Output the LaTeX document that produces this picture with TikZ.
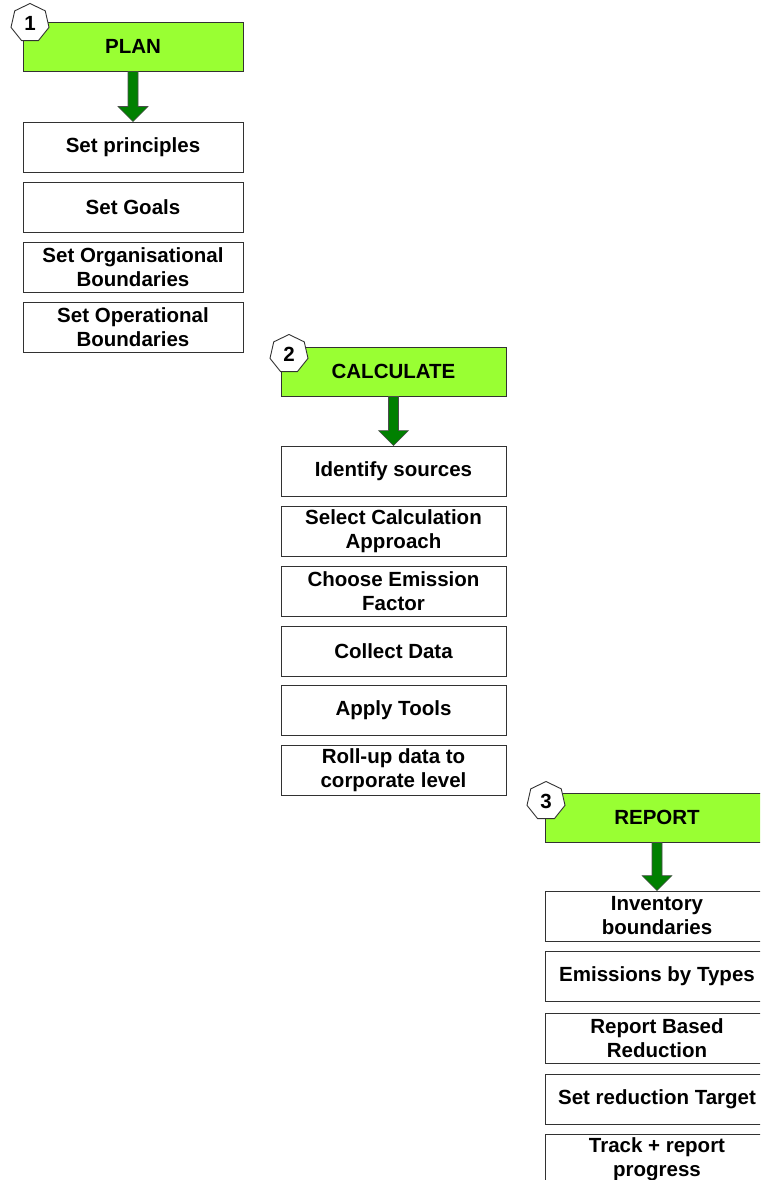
\documentclass[tikz,border=0pt]{standalone}
\usepackage{fontspec}
\setmainfont{Liberation Sans}
\usetikzlibrary{calc,shapes.geometric}
\definecolor{headgreen}{RGB}{153,255,51}
\definecolor{arrowgreen}{RGB}{0,128,0}
\definecolor{edge}{RGB}{50,50,50}
\tikzset{
  every node/.style={font=\bfseries\fontsize{20.5}{24}\selectfont, align=center, inner sep=0pt},
  stagehead/.style={draw=edge, line width=0.9pt, fill=headgreen, minimum height=49pt},
  stepbox/.style={draw=edge, line width=0.9pt, fill=white, minimum height=50pt},
  badge/.style={regular polygon, regular polygon sides=7, draw=edge, line width=0.9pt, fill=white, minimum size=39pt},
  bigarrow/.style={draw=black!70, line width=0.6pt, fill=arrowgreen},
}
\newcommand{\stagearrow}[2]{%
  \draw[bigarrow] ($(#1.south)+(-5,0)$) -- ($(#2.north)+(-5,-15)$) -- ($(#2.north)+(-15,-15)$)
    -- (#2.north) -- ($(#2.north)+(15,-15)$) -- ($(#2.north)+(5,-15)$) -- ($(#1.south)+(5,0)$) -- cycle;}
\begin{document}
\begin{tikzpicture}[x=1pt,y=-1pt]
\useasboundingbox (0,0) rectangle (760,1180);
\clip (0,0) rectangle (760,1180);

% Stage 1: plan
\node[stagehead, minimum width=220pt] (h1) at (133,46.5) {PLAN};
\node[badge] (n1) at (30,23) {1};
\node[stepbox, minimum width=220pt] (p1) at (133,147) {Set principles};
\node[stepbox, minimum width=220pt] (p2) at (133,207) {Set Goals};
\node[stepbox, minimum width=220pt] (p3) at (133,267) {Set Organisational\\Boundaries};
\node[stepbox, minimum width=220pt] (p4) at (133,327) {Set Operational\\Boundaries};
\stagearrow{h1}{p1}

% Stage 2: calculate
\node[stagehead, minimum width=225pt] (h2) at (393.5,371.5) {CALCULATE};
\node[badge] (n2) at (289,354) {2};
\node[stepbox, minimum width=225pt] (c1) at (393.5,471) {Identify sources};
\node[stepbox, minimum width=225pt] (c2) at (393.5,531) {Select Calculation\\Approach};
\node[stepbox, minimum width=225pt] (c3) at (393.5,591) {Choose Emission\\Factor};
\node[stepbox, minimum width=225pt] (c4) at (393.5,651) {Collect Data};
\node[stepbox, minimum width=225pt] (c5) at (393.5,710) {Apply Tools};
\node[stepbox, minimum width=225pt] (c6) at (393.5,770) {Roll-up data to\\corporate level};
\stagearrow{h2}{c1}

% Stage 3: report
\node[stagehead, minimum width=224pt] (h3) at (657,817.5) {REPORT};
\node[badge] (n3) at (546,801) {3};
\node[stepbox, minimum width=224pt] (r1) at (657,916) {Inventory\\boundaries};
\node[stepbox, minimum width=224pt] (r2) at (657,976) {Emissions by Types};
\node[stepbox, minimum width=224pt] (r3) at (657,1038) {Report Based\\Reduction};
\node[stepbox, minimum width=224pt] (r4) at (657,1099) {Set reduction Target};
\node[stepbox, minimum width=224pt] (r5) at (657,1159) {Track + report\\progress};
\stagearrow{h3}{r1}
\end{tikzpicture}
\end{document}
